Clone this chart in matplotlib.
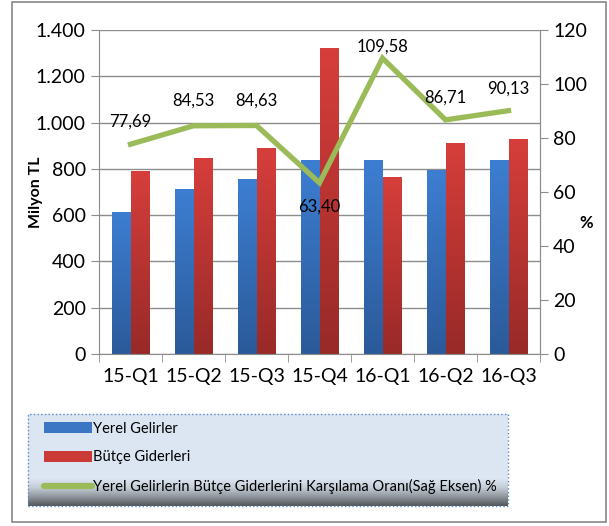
import numpy as np
import matplotlib.pyplot as plt
from matplotlib.patches import Rectangle, Patch
from matplotlib.lines import Line2D
from matplotlib.colors import LinearSegmentedColormap
from matplotlib.ticker import FuncFormatter, MultipleLocator

plt.rcParams['font.family'] = ['Lato', 'DejaVu Sans']

categories = ['15-Q1', '15-Q2', '15-Q3', '15-Q4', '16-Q1', '16-Q2', '16-Q3']
yerel_gelirler = [615, 715, 755, 840, 840, 793, 840]
butce_giderleri = [792, 848, 890, 1322, 766, 912, 930]
karsilama_orani = [77.69, 84.53, 84.63, 63.40, 109.58, 86.71, 90.13]
oran_labels = ['77,69', '84,53', '84,63', '63,40', '109,58', '86,71', '90,13']

blue = '#3a76c4'
red = '#cc3a37'
green = '#9bbb59'
blue_cm = LinearSegmentedColormap.from_list('b', ['#2b5a99', '#3d7ed2'])
red_cm = LinearSegmentedColormap.from_list('r', ['#982a28', '#d63e3b'])


def gradient_bars(ax, bars, cmap):
    grad = np.linspace(0, 1, 100).reshape(-1, 1)
    for b in bars:
        b.set_facecolor('none')
        x0, y0 = b.get_x(), b.get_y()
        im = ax.imshow(grad, extent=[x0, x0 + b.get_width(), y0, y0 + b.get_height()],
                       origin='lower', aspect='auto', cmap=cmap, zorder=2)
        im.set_clip_path(b)


fig = plt.figure(figsize=(6.09, 5.26), dpi=100)
fig.patches.append(Rectangle((12 / 609, 4 / 526), 594 / 609, 520 / 526,
                             transform=fig.transFigure, fill=False,
                             edgecolor='#888888', linewidth=1.2))

ax = fig.add_axes([99 / 609, 1 - 354 / 526, 441 / 609, 324 / 526])
x = np.arange(len(categories))
w = 0.295
b1 = ax.bar(x - w / 2, yerel_gelirler, w, color=blue, zorder=2, linewidth=0)
b2 = ax.bar(x + w / 2, butce_giderleri, w, color=red, zorder=2, linewidth=0)
gradient_bars(ax, b1, blue_cm)
gradient_bars(ax, b2, red_cm)

ax.set_xlim(-0.5, len(categories) - 0.5)
ax.set_ylim(0, 1400)
ax.yaxis.set_major_locator(MultipleLocator(200))
ax.yaxis.set_major_formatter(FuncFormatter(lambda v, p: f'{int(v):,}'.replace(',', '.')))
ax.grid(axis='y', color='#8c8c8c', linewidth=1, zorder=0)
ax.set_axisbelow(True)
ax.set_xticks(x)
ax.set_xticklabels(categories, fontsize=14)
ax.set_xticks(np.arange(-0.5, len(categories)), minor=True)
ax.tick_params(axis='x', which='major', length=0, pad=10)
ax.tick_params(axis='x', which='minor', length=6, color='#8c8c8c')
ax.tick_params(axis='y', labelsize=14, length=6, color='#8c8c8c')
ax.spines['top'].set_visible(False)
for s in ['left', 'bottom', 'right']:
    ax.spines[s].set_color('#8c8c8c')
ax.set_ylabel('Milyon TL', fontsize=11.5, fontweight='bold', labelpad=-5)

ax2 = ax.twinx()
ax2.plot(x, karsilama_orani, color=green, linewidth=3.8, zorder=3,
         solid_joinstyle='miter')
ax2.set_ylim(0, 120)
ax2.yaxis.set_major_locator(MultipleLocator(20))
ax2.tick_params(axis='y', labelsize=14, length=6, color='#8c8c8c')
for s in ['top', 'left', 'bottom']:
    ax2.spines[s].set_visible(False)
ax2.spines['right'].set_color('#8c8c8c')
ax2.set_ylabel('%', fontsize=12, fontweight='bold', rotation=0)
ax2.yaxis.set_label_coords(1.105, 0.43)

offsets = [(0, 16), (0, 18), (0, 18), (0, -17), (0, 8), (0, 16), (0, 16)]
for xi, v, lab, off in zip(x, karsilama_orani, oran_labels, offsets):
    ax2.annotate(lab, (xi, v), xytext=off, textcoords='offset points',
                 ha='center', va='center', fontsize=12, zorder=4)

# legend box: light fill, dark shading along the bottom (figure pixels)
lx, ly, lw, lh = 28, 20, 480, 92
fig.patches.append(Rectangle((lx / 609, ly / 526), lw / 609, lh / 526,
                             transform=fig.transFigure, facecolor='#dce6f2',
                             edgecolor='none', zorder=-2))
shade = LinearSegmentedColormap.from_list('s', ['#55595d', '#8f969d', '#c4ccd6', '#dce6f2'])
steps = 28
for i in range(steps):
    fig.patches.append(Rectangle((lx / 609, (ly + i) / 526), lw / 609, 1.05 / 526,
                                 transform=fig.transFigure,
                                 facecolor=shade(i / (steps - 1)),
                                 edgecolor='none', zorder=-1))
fig.patches.append(Rectangle((lx / 609, ly / 526), lw / 609, lh / 526,
                             transform=fig.transFigure, fill=False,
                             edgecolor='#5b8bc7', linestyle=':', zorder=-1))

handles = [Patch(facecolor=blue), Patch(facecolor=red),
           Line2D([0], [0], color=green, linewidth=4.5, solid_capstyle='round')]
names = ['Yerel Gelirler', 'Bütçe Giderleri',
         'Yerel Gelirlerin Bütçe Giderlerini Karşılama Oranı(Sağ Eksen) %']
leg = fig.legend(handles, names, loc='center left',
                 bbox_to_anchor=((lx + 10) / 609, (ly + lh / 2 + 2) / 526),
                 fontsize=10.5, handlelength=3.3, handleheight=0.8,
                 handletextpad=0.1, labelspacing=1.0, borderaxespad=0,
                 frameon=False)

fig.savefig('out.png', dpi=100)
